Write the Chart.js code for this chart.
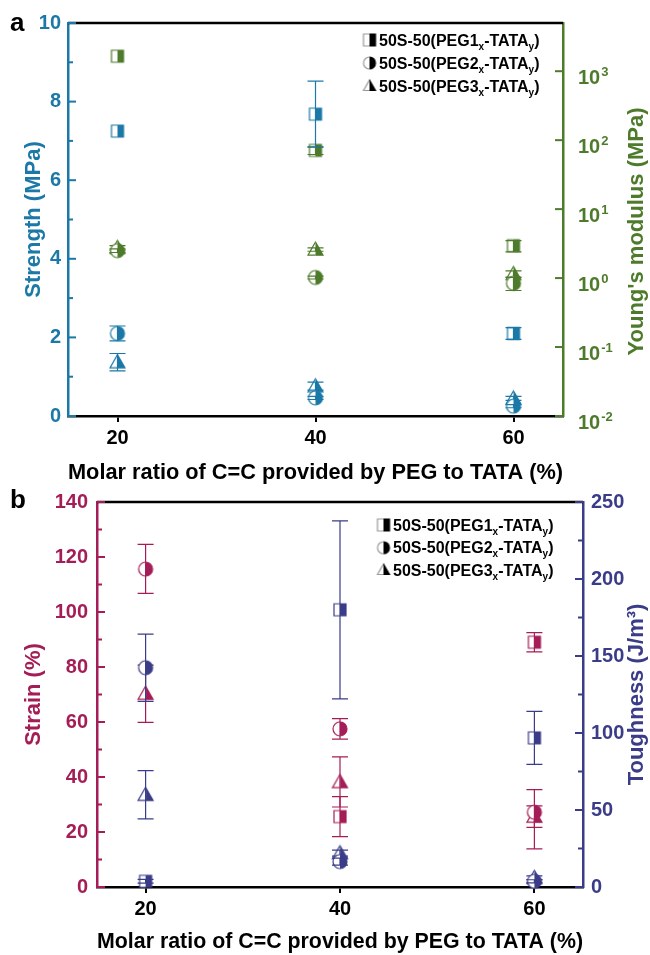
<!DOCTYPE html>
<html>
<head>
<meta charset="utf-8">
<title>Mechanical properties of 50S-50(PEGn-TATA) networks</title>
<script src="https://cdn.jsdelivr.net/npm/chart.js@4.4.1/dist/chart.umd.min.js"></script>
<style>
  html, body { margin: 0; padding: 0; background: #fff; }
  #page { position: relative; width: 650px; height: 955px; overflow: hidden; background: #fff; }
  #page canvas { position: absolute; left: 0; }
  #chartA { top: 0; }
  #chartB { top: 480px; }
</style>
</head>
<body>
<div id="page">
  <canvas id="chartA" width="650" height="500"></canvas>
  <canvas id="chartB" width="650" height="475"></canvas>
</div>
<script>
const FONT = "'Liberation Sans', Arial, Helvetica, sans-serif";
Chart.defaults.font.family = FONT;

const BLUE = '#1b78a7', GREEN = '#4d7b2b', CRIMSON = '#a41d56', NAVY = '#3a3c88';

// x: molar ratio of C=C supplied by PEG relative to TATA (%)
const ratio = [20, 40, 60];
const ratioTicks = [20, 40, 60];

// (a) tensile strength, MPa (left axis)
const strengthPEG1 = [7.25, 7.68, 2.10];
const strengthPEG1Err = [0, 0.84, 0.15];
const strengthPEG2 = [2.10, 0.46, 0.25];
const strengthPEG2Err = [0.19, 0.04, 0.04];
const strengthPEG3 = [1.37, 0.76, 0.45];
const strengthPEG3Err = [0.22, 0.10, 0.05];
const strengthTicks = [0, 2, 4, 6, 8, 10];
const strengthMinor = [1, 3, 5, 7, 9];

// (a) Young's modulus, MPa (right axis, logarithmic)
const modulusPEG1 = [1650, 71, 2.95];
const modulusPEG1Err = [0, 9, 0.55];
const modulusPEG2 = [2.5, 1.02, 0.84];
const modulusPEG2Err = [0.15, 0.05, 0.18];
const modulusPEG3 = [2.75, 2.6, 1.15];
const modulusPEG3Err = [0.2, 0.15, 0.12];
const modulusExponents = [-2, -1, 0, 1, 2, 3];

// (b) strain at break, % (left axis); [down, up] where the bar is uneven
const strainPEG1 = [null, 25.6, 89.0];
const strainPEG1Err = [0, 7.3, 3.5];
const strainPEG2 = [115.6, 57.5, 27.2];
const strainPEG2Err = [[8.8, 9.0], 3.7, [13.3, 8.2]];
const strainPEG3 = [70.3, 38.2, 25.6];
const strainPEG3Err = [10.4, 9.1, 3.9];
const strainTicks = [0, 20, 40, 60, 80, 100, 120, 140];
const strainMinor = [10, 30, 50, 70, 90, 110, 130];

// (b) toughness, J/m3 (right axis)
const toughPEG1 = [3.7, 180, 96.8];
const toughPEG1Err = [1.2, 57.8, 17.2];
const toughPEG2 = [142.4, 16.5, 3.7];
const toughPEG2Err = [21.8, 2.3, 1.0];
const toughPEG3 = [59.9, 22, 6.0];
const toughPEG3Err = [15.7, 2.0, 1.2];
const toughTicks = [0, 50, 100, 150, 200, 250];
const toughMinor = [25, 75, 125, 175, 225];

const legendSeries = ['1', '2', '3'];
const legendShapes = ['square', 'circle', 'triangle'];
const SIZES = { square: 12, circle: 14, triangle: 15 };

// half-open symbol: left half white with outline, right half solid
function halfMarker(shape, solid, outline, size) {
  const s = size + 6, c = document.createElement('canvas');
  c.width = s; c.height = s;
  const g = c.getContext('2d'), m = s / 2, h = size / 2;
  const path = () => {
    g.beginPath();
    if (shape === 'square') g.rect(m - h, m - h, size, size);
    else if (shape === 'circle') g.arc(m, m, h, 0, Math.PI * 2);
    else { g.moveTo(m, m - h); g.lineTo(m + h, m + h * 0.75); g.lineTo(m - h, m + h * 0.75); g.closePath(); }
  };
  path(); g.fillStyle = '#fff'; g.fill();
  g.lineWidth = 1.2;
  g.save(); g.beginPath(); g.rect(0, 0, m, s); g.clip(); path(); g.strokeStyle = outline; g.stroke(); g.restore();
  g.save(); g.beginPath(); g.rect(m, 0, s, s); g.clip(); path(); g.fillStyle = solid; g.fill(); g.strokeStyle = solid; g.stroke(); g.restore();
  return c;
}

function series(label, values, errors, color, shape, axis) {
  return {
    label,
    data: ratio.map((x, i) => ({ x, y: values[i] })),
    errors,
    yAxisID: axis,
    showLine: false,
    clip: false,
    pointStyle: halfMarker(shape, color, color, SIZES[shape]),
    borderColor: color,
    backgroundColor: color
  };
}

const panelSpecs = {
  chartA: {
    letter: { text: 'a', x: 10, y: 31 },
    legend: { markerX: 369.5, textX: 379, rows: [40, 63, 86] },
    rightTitle: { text: "Young's modulus (MPa)", color: GREEN, x: 637, shift: 12 },
    inward: [
      { axis: 'yL', side: 'left', color: BLUE, major: strengthTicks, minor: strengthMinor },
      { axis: 'yR', side: 'right', color: GREEN, major: modulusExponents.map(p => Math.pow(10, p)), minor: [] }
    ],
    logLabels: { axis: 'yR', color: GREEN, exponents: modulusExponents, gap: 15 }
  },
  chartB: {
    letter: { text: 'b', x: 10, y: 28 },
    legend: { markerX: 383.5, textX: 393, rows: [45, 67.7, 90] },
    rightTitle: { text: 'Toughness (J/m³)', color: NAVY, x: 637, shift: 0 },
    inward: [
      { axis: 'yL', side: 'left', color: CRIMSON, major: strainTicks, minor: strainMinor },
      { axis: 'yR', side: 'right', color: NAVY, major: toughTicks, minor: toughMinor }
    ]
  }
};

function drawLegendLabel(ctx, x, y, n) {
  const parts = [['50S-50(PEG' + n, 0, 16], ['x', 4, 10], ['-TATA', 0, 16], ['y', 4, 10], [')', 0, 16]];
  let cx = x;
  parts.forEach(([t, dy, sz]) => {
    ctx.font = `bold ${sz}px ${FONT}`;
    ctx.fillText(t, cx, y + dy);
    cx += ctx.measureText(t).width;
  });
}

const panelPlugin = {
  id: 'panelDecor',
  afterDatasetDraw(chart, args) {
    const ds = chart.data.datasets[args.index];
    if (!ds.errors) return;
    const ys = chart.scales[ds.yAxisID];
    const ctx = chart.ctx;
    ctx.save();
    ctx.strokeStyle = ds.borderColor;
    ctx.lineWidth = 1.2;
    args.meta.data.forEach((el, i) => {
      const v = ds.data[i].y;
      const e = ds.errors[i];
      if (v == null || !e) return;
      const lo = Array.isArray(e) ? e[0] : e, hi = Array.isArray(e) ? e[1] : e;
      const yTop = ys.getPixelForValue(v + hi), yBot = ys.getPixelForValue(v - lo);
      const x = el.x;
      ctx.beginPath();
      ctx.moveTo(x, yTop); ctx.lineTo(x, yBot);
      ctx.moveTo(x - 8, yTop); ctx.lineTo(x + 8, yTop);
      ctx.moveTo(x - 8, yBot); ctx.lineTo(x + 8, yBot);
      ctx.stroke();
    });
    ctx.restore();
  },
  afterDraw(chart) {
    const spec = panelSpecs[chart.canvas.id];
    const ctx = chart.ctx, a = chart.chartArea;
    ctx.save();
    // top frame line
    ctx.strokeStyle = '#000'; ctx.lineWidth = 2.5;
    ctx.beginPath(); ctx.moveTo(a.left, a.top); ctx.lineTo(a.right, a.top); ctx.stroke();
    // inward major / minor ticks on both value axes
    spec.inward.forEach(t => {
      const sc = chart.scales[t.axis];
      const x0 = t.side === 'left' ? a.left : a.right, dir = t.side === 'left' ? 1 : -1;
      ctx.strokeStyle = t.color; ctx.lineWidth = 2;
      const tick = (v, len) => {
        const y = sc.getPixelForValue(v);
        ctx.beginPath(); ctx.moveTo(x0, y); ctx.lineTo(x0 + dir * len, y); ctx.stroke();
      };
      t.major.forEach(v => tick(v, 8));
      t.minor.forEach(v => tick(v, 5));
    });
    // powers of ten on the logarithmic axis
    if (spec.logLabels) {
      const L = spec.logLabels, sc = chart.scales[L.axis];
      ctx.fillStyle = L.color; ctx.textAlign = 'left'; ctx.textBaseline = 'alphabetic';
      L.exponents.forEach(p => {
        const y = sc.getPixelForValue(Math.pow(10, p));
        const x = a.right + L.gap, base = y + 13;
        ctx.font = `bold 20px ${FONT}`;
        ctx.fillText('10', x, base);
        const w = ctx.measureText('10').width;
        ctx.font = `bold 13px ${FONT}`;
        ctx.fillText(String(p), x + w + 1, base - 8.5);
      });
    }
    // right-hand axis title, reading bottom to top like the left one
    const rt = spec.rightTitle;
    ctx.save();
    ctx.translate(rt.x, (a.top + a.bottom) / 2 + rt.shift);
    ctx.rotate(-Math.PI / 2);
    ctx.font = `bold 22px ${FONT}`; ctx.fillStyle = rt.color;
    ctx.textAlign = 'center'; ctx.textBaseline = 'middle';
    ctx.fillText(rt.text, 0, 0);
    ctx.restore();
    // legend
    const lg = spec.legend;
    ctx.textAlign = 'left'; ctx.textBaseline = 'alphabetic'; ctx.fillStyle = '#000';
    lg.rows.forEach((ry, i) => {
      const img = halfMarker(legendShapes[i], '#000', '#9a9a9a', 12);
      ctx.drawImage(img, lg.markerX - img.width / 2, ry - img.height / 2);
      ctx.fillStyle = '#000';
      drawLegendLabel(ctx, lg.textX, ry + 5.7, legendSeries[i]);
    });
    // panel letter
    ctx.font = `bold 26px ${FONT}`; ctx.fillStyle = '#000';
    ctx.fillText(spec.letter.text, spec.letter.x, spec.letter.y);
    ctx.restore();
  }
};

function makePanel(id, cfg) {
  return new Chart(document.getElementById(id), {
    type: 'scatter',
    data: { datasets: cfg.datasets },
    options: {
      responsive: false,
      animation: false,
      events: [],
      layout: { padding: { top: cfg.top, left: 0, right: 0, bottom: 0 } },
      plugins: { legend: { display: false }, tooltip: { enabled: false } },
      scales: {
        x: {
          type: 'linear', position: 'bottom', min: 15, max: 65,
          afterBuildTicks: s => { s.ticks = ratioTicks.map(v => ({ value: v })); },
          afterFit: s => { s.height = cfg.xHeight; },
          grid: { drawOnChartArea: false, drawTicks: true, tickLength: 6, color: '#000', lineWidth: 2 },
          border: { color: '#000', width: 2.5 },
          ticks: { color: '#000', font: { size: 20, weight: 'bold' }, padding: 4, maxRotation: 0 },
          title: { display: true, text: 'Molar ratio of C=C provided by PEG to TATA (%)', color: '#000',
                   font: { size: 22, weight: 'bold' }, padding: { top: 0, bottom: cfg.xTitlePad } }
        },
        yL: {
          type: 'linear', position: 'left', min: cfg.left.min, max: cfg.left.max,
          afterBuildTicks: s => { s.ticks = cfg.left.ticks.map(v => ({ value: v })); },
          afterFit: s => { s.width = cfg.left.width; },
          grid: { drawOnChartArea: false, drawTicks: false },
          border: { color: cfg.left.color, width: 2.5 },
          ticks: { color: cfg.left.color, font: { size: 20, weight: 'bold' }, padding: cfg.left.pad },
          title: { display: true, text: cfg.left.title, color: cfg.left.color,
                   font: { size: 22, weight: 'bold' }, padding: { top: 21, bottom: 0 } }
        },
        yR: Object.assign({
          position: 'right', min: cfg.right.min, max: cfg.right.max,
          afterBuildTicks: s => { s.ticks = cfg.right.ticks.map(v => ({ value: v })); },
          afterFit: s => { s.width = cfg.right.width; },
          grid: { drawOnChartArea: false, drawTicks: false },
          border: { color: cfg.right.color, width: 2.5 },
          ticks: { display: cfg.right.labels, color: cfg.right.color, font: { size: 20, weight: 'bold' }, padding: cfg.right.pad },
          title: { display: false }
        }, { type: cfg.right.type })
      }
    },
    plugins: [panelPlugin]
  });
}

makePanel('chartA', {
  top: 23, xHeight: 84, xTitlePad: 13.8,
  left: { min: 0, max: 10, ticks: strengthTicks, width: 68, pad: 7, color: BLUE, title: 'Strength (MPa)' },
  right: { type: 'logarithmic', min: 0.01, max: 5000, ticks: modulusExponents.map(p => Math.pow(10, p)),
           width: 87, pad: 15, labels: false, color: GREEN },
  datasets: [
    series('Strength PEG1', strengthPEG1, strengthPEG1Err, BLUE, 'square', 'yL'),
    series('Strength PEG2', strengthPEG2, strengthPEG2Err, BLUE, 'circle', 'yL'),
    series('Strength PEG3', strengthPEG3, strengthPEG3Err, BLUE, 'triangle', 'yL'),
    series('Modulus PEG1', modulusPEG1, modulusPEG1Err, GREEN, 'square', 'yR'),
    series('Modulus PEG2', modulusPEG2, modulusPEG2Err, GREEN, 'circle', 'yR'),
    series('Modulus PEG3', modulusPEG3, modulusPEG3Err, GREEN, 'triangle', 'yR')
  ]
});

makePanel('chartB', {
  top: 22, xHeight: 68, xTitlePad: 0,
  left: { min: 0, max: 140, ticks: strainTicks, width: 97, pad: 9, color: CRIMSON, title: 'Strain (%)' },
  right: { type: 'linear', min: 0, max: 250, ticks: toughTicks,
           width: 67, pad: 8, labels: true, color: NAVY },
  datasets: [
    series('Toughness PEG1', toughPEG1, toughPEG1Err, NAVY, 'square', 'yR'),
    series('Toughness PEG2', toughPEG2, toughPEG2Err, NAVY, 'circle', 'yR'),
    series('Toughness PEG3', toughPEG3, toughPEG3Err, NAVY, 'triangle', 'yR'),
    series('Strain PEG1', strainPEG1, strainPEG1Err, CRIMSON, 'square', 'yL'),
    series('Strain PEG2', strainPEG2, strainPEG2Err, CRIMSON, 'circle', 'yL'),
    series('Strain PEG3', strainPEG3, strainPEG3Err, CRIMSON, 'triangle', 'yL')
  ]
});
</script>
</body>
</html>
